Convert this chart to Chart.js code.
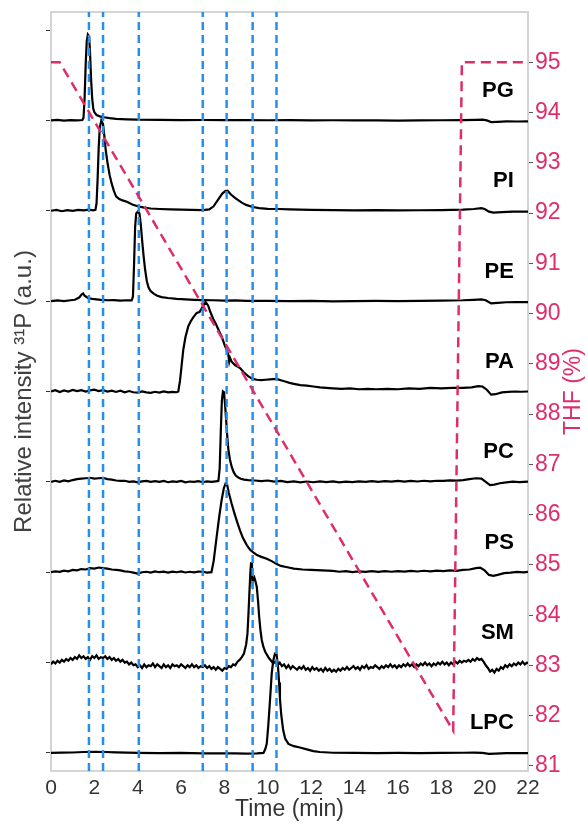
<!DOCTYPE html>
<html>
<head>
<meta charset="utf-8">
<script src="https://cdn.jsdelivr.net/npm/chart.js@4/dist/chart.umd.min.js"></script>
<style>
html,body{margin:0;padding:0;background:#fff;}
canvas{display:block;}
</style>
</head>
<body>
<canvas id="c" width="588" height="825"></canvas>
<script>
// ---------- data ----------
const timeTicks = [0,2,4,6,8,10,12,14,16,18,20,22];
const thfTicks = [81,82,83,84,85,86,87,88,89,90,91,92,93,94,95];
const offsetTicks = [0,1,2,3,4,5,6,7,8];
const traceNames = ['LPC','SM','PS','PC','PA','PE','PI','PG']; // stacked bottom -> top, offset = index
const markerTimes = [1.75,2.4,4.05,7.0,8.1,9.3,10.4];
const thfTime = [0,0.4,18.55,18.95,22];
const thfValue = [95,95,81.7,95,95];

const pgTrace = [[0,0],[0.3,0.005],[0.6,-0.003],[0.9,0.004],[1.2,0],[1.45,0.005],[1.5,0.03],[1.55,0.25],[1.6,0.62],[1.65,0.88],[1.7,0.95],[1.76,0.93],[1.8,0.75],[1.85,0.45],[1.9,0.24],[1.95,0.13],[2.0,0.09],[2.1,0.06],[2.25,0.045],[2.45,0.035],[2.7,0.025],[3.0,0.018],[3.5,0.012],[4.0,0.008],[5,0.006],[6,0.004],[7,0.005],[8,0.003],[9,0.004],[10,0.002],[11,0.003],[12,0],[13,0.002],[14,0],[15,0.001],[16,-0.002],[17,0],[18,0.002],[19,0.003],[19.6,0.006],[19.9,0.008],[20.1,0],[20.3,-0.018],[20.6,-0.015],[21,-0.01],[21.5,-0.012],[22,-0.01]];

const piTrace = [[0,0],[0.25,0.01],[0.5,-0.005],[0.75,0.008],[1.0,0],[1.25,0.01],[1.5,0.004],[1.75,0.012],[1.95,0.005],[2.05,0.01],[2.1,0.08],[2.15,0.35],[2.2,0.7],[2.25,0.92],[2.32,1.0],[2.4,0.96],[2.45,0.85],[2.52,0.68],[2.6,0.54],[2.7,0.4],[2.8,0.3],[2.9,0.22],[3.0,0.16],[3.15,0.13],[3.3,0.115],[3.5,0.1],[3.75,0.07],[4.0,0.05],[4.3,0.035],[4.6,0.025],[5.0,0.02],[5.5,0.015],[6.0,0.012],[6.5,0.01],[7.0,0.008],[7.3,0.015],[7.5,0.05],[7.7,0.12],[7.9,0.19],[8.05,0.22],[8.15,0.22],[8.3,0.18],[8.5,0.14],[8.8,0.09],[9.0,0.065],[9.3,0.042],[9.6,0.03],[10.0,0.022],[10.5,0.02],[11,0.015],[11.5,0.012],[12,0.01],[13,0.008],[14,0.005],[15,0.008],[16,0.004],[17,0.006],[18,0.008],[19,0.012],[19.5,0.02],[19.85,0.03],[20.0,0.02],[20.2,-0.01],[20.4,-0.02],[20.8,-0.015],[21.3,-0.01],[22,-0.01]];

const peTrace = [[0,0],[0.3,0.008],[0.6,0],[0.9,0.01],[1.1,0.015],[1.3,0.04],[1.42,0.075],[1.48,0.085],[1.55,0.06],[1.7,0.035],[1.9,0.025],[2.1,0.02],[2.3,0.015],[2.6,0.01],[2.9,0.012],[3.2,0.005],[3.5,0.01],[3.72,0.008],[3.78,0.05],[3.83,0.4],[3.88,0.82],[3.93,0.97],[4.0,0.99],[4.08,0.97],[4.14,0.85],[4.2,0.68],[4.27,0.5],[4.34,0.35],[4.42,0.22],[4.5,0.15],[4.6,0.11],[4.75,0.08],[4.9,0.06],[5.1,0.045],[5.4,0.035],[5.8,0.025],[6.2,0.02],[6.6,0.015],[7,0.012],[7.5,0.01],[8,0.005],[8.5,0.008],[9,0.004],[10,0.003],[11,0],[12,0.002],[13,-0.002],[14,0],[15,0.002],[16,0],[17,0.004],[18,0.006],[19,0.01],[19.5,0.015],[19.85,0.02],[20.05,0.01],[20.3,-0.025],[20.6,-0.02],[21,-0.012],[21.5,-0.01],[22,-0.01]];

const paTrace = [[0,0],[0.2,0.015],[0.4,-0.005],[0.6,0.012],[0.8,0],[1.0,0.018],[1.2,0.005],[1.4,0.015],[1.6,0],[1.8,0.012],[2.0,0.02],[2.2,0.005],[2.4,0.015],[2.6,0],[2.8,0.01],[3.0,-0.005],[3.2,0.008],[3.4,-0.01],[3.6,0.005],[3.8,-0.008],[4.0,-0.012],[4.2,0],[4.4,-0.01],[4.6,-0.015],[4.8,-0.003],[5.0,-0.012],[5.2,0],[5.4,-0.01],[5.6,-0.004],[5.8,-0.008],[5.87,0],[5.95,0.12],[6.03,0.3],[6.1,0.46],[6.2,0.6],[6.33,0.72],[6.45,0.78],[6.56,0.82],[6.72,0.87],[6.85,0.88],[7.0,0.94],[7.13,0.99],[7.25,0.95],[7.35,0.88],[7.49,0.8],[7.6,0.75],[7.75,0.67],[7.87,0.61],[8.0,0.52],[8.1,0.46],[8.18,0.4],[8.22,0.33],[8.26,0.37],[8.33,0.33],[8.5,0.29],[8.72,0.26],[8.9,0.21],[9.09,0.17],[9.3,0.14],[9.49,0.13],[9.7,0.125],[9.9,0.13],[10.1,0.135],[10.4,0.14],[10.6,0.125],[10.8,0.11],[11.0,0.095],[11.2,0.085],[11.5,0.07],[11.8,0.065],[12.1,0.055],[12.4,0.045],[12.7,0.04],[13.0,0.035],[13.4,0.03],[13.8,0.035],[14.2,0.025],[14.6,0.03],[15.0,0.025],[15.5,0.03],[16,0.025],[16.5,0.035],[17,0.03],[17.5,0.04],[18,0.035],[18.5,0.04],[19,0.04],[19.4,0.045],[19.7,0.06],[19.9,0.055],[20.1,0.02],[20.3,-0.035],[20.5,-0.03],[20.8,-0.01],[21.1,-0.005],[21.4,0],[21.7,-0.003],[22,0]];

const pcTrace = [[0,0],[0.2,0.012],[0.4,0],[0.6,0.015],[0.8,0.005],[1.0,0.02],[1.2,0.03],[1.4,0.035],[1.6,0.04],[1.8,0.045],[2.0,0.035],[2.2,0.04],[2.4,0.045],[2.6,0.03],[2.8,0.025],[3.0,0.015],[3.2,0.01],[3.4,0.012],[3.6,0],[3.8,0.005],[4.0,-0.005],[4.2,0.005],[4.4,0.01],[4.6,0],[4.8,0.008],[5.0,0],[5.2,0.01],[5.4,-0.004],[5.6,0.006],[5.8,0],[6.0,0.01],[6.2,-0.005],[6.4,0.004],[6.6,0],[6.8,0.008],[7.0,-0.004],[7.2,0.005],[7.4,0],[7.6,0.006],[7.72,0.01],[7.78,0.15],[7.83,0.55],[7.88,0.9],[7.93,1.0],[7.98,0.99],[8.03,0.85],[8.08,0.68],[8.13,0.5],[8.18,0.36],[8.25,0.25],[8.33,0.17],[8.42,0.11],[8.52,0.07],[8.62,0.05],[8.75,0.035],[8.9,0.025],[9.1,0.02],[9.4,0.015],[9.7,0.008],[10.0,0.015],[10.3,0.003],[10.6,0.01],[10.9,-0.003],[11.2,0.006],[11.5,-0.005],[11.8,0.004],[12.1,-0.004],[12.4,0.006],[12.7,-0.002],[13.0,0.005],[13.3,-0.006],[13.6,0.003],[13.9,-0.003],[14.2,0.006],[14.5,0],[14.8,0.008],[15.1,0],[15.4,0.007],[15.7,0.002],[16.0,0.01],[16.3,0.003],[16.6,0.01],[16.9,0.004],[17.2,0.012],[17.5,0.006],[17.8,0.012],[18.1,0.01],[18.4,0.016],[18.7,0.014],[19.0,0.02],[19.3,0.03],[19.6,0.04],[19.85,0.035],[20.05,0.0],[20.25,-0.035],[20.45,-0.03],[20.7,-0.015],[21.0,-0.005],[21.3,0.002],[21.6,-0.002],[22,0.002]];

const psTrace = [[0,0],[0.2,0.01],[0.4,0.005],[0.6,0.018],[0.8,0.01],[1.0,0.025],[1.2,0.02],[1.4,0.035],[1.6,0.03],[1.8,0.045],[2.0,0.04],[2.2,0.052],[2.4,0.045],[2.6,0.04],[2.8,0.03],[3.0,0.025],[3.2,0.02],[3.4,0.01],[3.6,0.005],[3.8,-0.005],[4.0,-0.015],[4.2,0],[4.4,0.005],[4.6,-0.005],[4.8,0.008],[5.0,0],[5.2,0.006],[5.4,-0.004],[5.6,0.007],[5.8,0],[6.0,0.008],[6.2,-0.003],[6.4,0.005],[6.6,-0.002],[6.8,0.006],[7.0,0.005],[7.2,-0.005],[7.4,0],[7.5,0.12],[7.64,0.39],[7.75,0.6],[7.87,0.8],[7.97,0.93],[8.05,0.98],[8.12,0.97],[8.2,0.88],[8.33,0.76],[8.45,0.66],[8.58,0.56],[8.72,0.46],[8.85,0.38],[9.03,0.3],[9.18,0.25],[9.33,0.22],[9.5,0.19],[9.7,0.17],[9.95,0.15],[10.2,0.12],[10.41,0.09],[10.6,0.07],[10.9,0.055],[11.2,0.04],[11.6,0.03],[12.0,0.025],[12.5,0.02],[13.0,0.015],[13.3,0.005],[13.6,0.012],[13.9,0.002],[14.2,0.01],[14.5,0.003],[14.8,0.011],[15.1,0.004],[15.4,0.012],[15.7,0.005],[16.0,0.013],[16.3,0.006],[16.6,0.014],[16.9,0.008],[17.2,0.016],[17.5,0.01],[17.8,0.018],[18.1,0.012],[18.4,0.02],[18.7,0.015],[19.0,0.025],[19.3,0.03],[19.6,0.045],[19.8,0.05],[20.0,0.02],[20.2,-0.03],[20.4,-0.04],[20.6,-0.03],[20.9,-0.01],[21.2,-0.005],[21.5,0.004],[21.8,-0.002],[22,0.003]];

const smTrace = [[0.0,-0.02],[0.1,0.01],[0.2,-0.01],[0.3,0.02],[0.4,0.0],[0.5,0.03],[0.6,0.01],[0.7,0.04],[0.8,0.02],[0.9,0.05],[1.0,0.03],[1.1,0.06],[1.2,0.04],[1.3,0.08],[1.4,0.05],[1.5,0.07],[1.6,0.04],[1.7,0.06],[1.8,0.03],[1.9,0.07],[2.0,0.05],[2.1,0.08],[2.2,0.04],[2.3,0.06],[2.4,0.05],[2.5,0.07],[2.6,0.04],[2.7,0.06],[2.8,0.03],[2.9,0.05],[3.0,0.02],[3.1,0.04],[3.2,0.01],[3.3,0.03],[3.4,0.0],[3.5,0.01],[3.6,-0.02],[3.7,0.0],[3.8,-0.03],[3.9,-0.02],[4.0,-0.05],[4.1,-0.03],[4.2,-0.06],[4.3,-0.02],[4.4,-0.05],[4.5,-0.03],[4.6,-0.04],[4.7,-0.01],[4.8,-0.05],[4.9,-0.02],[5.0,-0.04],[5.1,-0.06],[5.2,-0.02],[5.3,-0.05],[5.4,-0.03],[5.5,-0.06],[5.6,-0.02],[5.7,-0.04],[5.8,-0.03],[5.9,-0.05],[6.0,-0.02],[6.1,-0.04],[6.2,-0.06],[6.3,-0.03],[6.4,-0.05],[6.5,-0.02],[6.6,-0.05],[6.7,-0.03],[6.8,-0.06],[6.9,-0.04],[7.0,-0.05],[7.1,-0.03],[7.2,-0.06],[7.3,-0.04],[7.4,-0.07],[7.5,-0.05],[7.6,-0.08],[7.7,-0.05],[7.8,-0.07],[7.9,-0.09],[8.0,-0.06],[8.1,-0.07],[8.2,-0.04],[8.3,-0.05],[8.4,-0.02],[8.5,-0.03],[8.6,0.01],[8.7,0.03],[8.8,0.06],[8.9,0.1],[8.95,0.15],[9.0,0.2],[9.06,0.32],[9.1,0.5],[9.15,0.77],[9.2,1.02],[9.23,1.11],[9.27,0.98],[9.3,0.88],[9.34,0.92],[9.38,0.94],[9.43,0.9],[9.49,0.84],[9.55,0.68],[9.6,0.51],[9.66,0.36],[9.72,0.25],[9.8,0.17],[9.88,0.12],[9.95,0.09],[10.05,0.05],[10.15,0.02],[10.25,-0.01],[10.35,0.01],[10.45,-0.03],[10.55,0.0],[10.65,-0.04],[10.75,-0.02],[10.85,-0.06],[10.95,-0.03],[11.05,-0.07],[11.15,-0.04],[11.25,-0.06],[11.35,-0.08],[11.45,-0.05],[11.55,-0.07],[11.65,-0.04],[11.75,-0.08],[11.85,-0.06],[11.95,-0.09],[12.05,-0.05],[12.15,-0.08],[12.25,-0.06],[12.35,-0.09],[12.45,-0.07],[12.55,-0.1],[12.65,-0.06],[12.75,-0.09],[12.85,-0.07],[12.95,-0.1],[13.05,-0.08],[13.15,-0.1],[13.25,-0.07],[13.35,-0.09],[13.45,-0.06],[13.55,-0.08],[13.65,-0.05],[13.75,-0.08],[13.85,-0.06],[13.95,-0.04],[14.05,-0.07],[14.15,-0.05],[14.25,-0.08],[14.35,-0.04],[14.45,-0.06],[14.55,-0.03],[14.65,-0.07],[14.75,-0.05],[14.85,-0.06],[14.95,-0.03],[15.05,-0.05],[15.15,-0.07],[15.25,-0.04],[15.35,-0.06],[15.45,-0.03],[15.55,-0.05],[15.65,-0.02],[15.75,-0.05],[15.85,-0.03],[15.95,-0.06],[16.05,-0.03],[16.15,-0.05],[16.25,-0.02],[16.35,-0.04],[16.45,-0.01],[16.55,-0.04],[16.65,-0.02],[16.75,-0.05],[16.85,-0.02],[16.95,-0.04],[17.05,-0.01],[17.15,-0.03],[17.25,0.0],[17.35,-0.03],[17.45,-0.01],[17.55,-0.04],[17.65,-0.01],[17.75,-0.03],[17.85,0.0],[17.95,-0.02],[18.05,0.01],[18.15,-0.02],[18.25,0.0],[18.35,-0.03],[18.45,0.0],[18.55,-0.02],[18.65,0.01],[18.75,-0.01],[18.85,0.02],[18.95,0.0],[19.05,0.02],[19.15,0.01],[19.25,0.03],[19.35,0.01],[19.45,0.04],[19.55,0.02],[19.65,0.05],[19.75,0.03],[19.85,0.04],[19.95,0.01],[20.05,-0.03],[20.15,-0.06],[20.25,-0.1],[20.35,-0.08],[20.45,-0.11],[20.55,-0.07],[20.65,-0.09],[20.75,-0.05],[20.85,-0.07],[20.95,-0.03],[21.05,-0.05],[21.15,-0.02],[21.25,-0.04],[21.35,-0.01],[21.45,-0.03],[21.55,0.0],[21.65,-0.02],[21.75,0.01],[21.85,-0.02],[21.95,0.0],[22.0,-0.01]];

const lpcTrace = [[0,0],[0.5,0.003],[1.0,0.005],[1.5,0.01],[2.0,0.012],[2.5,0.01],[3.0,0.006],[3.5,0.004],[4.0,0],[5,-0.003],[6,0],[7,-0.004],[8,-0.006],[8.5,-0.005],[9,-0.008],[9.5,-0.004],[9.8,0],[9.88,0.04],[9.95,0.1],[10.02,0.3],[10.1,0.58],[10.18,0.88],[10.25,1.02],[10.33,1.1],[10.4,1.1],[10.47,0.95],[10.52,0.78],[10.56,0.6],[10.62,0.42],[10.71,0.25],[10.8,0.16],[10.95,0.1],[11.2,0.075],[11.48,0.06],[11.8,0.04],[12.1,0.02],[12.4,0.01],[13,0.002],[14,0],[15,-0.002],[16,0],[17,-0.003],[18,0],[19,0.002],[19.5,0.004],[19.9,0],[20.2,-0.01],[20.5,-0.008],[21,-0.003],[22,-0.003]];

const traces = [lpcTrace, smTrace, psTrace, pcTrace, paTrace, peTrace, piTrace, pgTrace];

// ---------- style ----------
const PINK = '#DE2D6B';
const BLUE = '#2490EC';
const FONT = "'Liberation Sans', Arial, sans-serif";
const Y_MIN = -0.2, Y_MAX = 8.2;
const LABEL_TIME = 21.35, LABEL_LIFT = 0.26;

Chart.defaults.font.family = FONT;

const datasets = [];
datasets.push({
  label: 'THF',
  data: thfTime.map((t, i) => ({x: t, y: thfValue[i]})),
  yAxisID: 'y2', borderColor: PINK, borderWidth: 2.5, borderDash: [10, 6],
  pointRadius: 0, tension: 0, fill: false, order: 0
});
markerTimes.forEach(t => {
  datasets.push({
    label: 'marker ' + t,
    data: [{x: t, y: Y_MIN}, {x: t, y: Y_MAX}],
    yAxisID: 'y', borderColor: BLUE, borderWidth: 2.5, borderDash: [8, 5],
    pointRadius: 0, tension: 0, fill: false, order: 1
  });
});
traces.forEach((tr, k) => {
  datasets.push({
    label: traceNames[k],
    data: tr.map(([t, v]) => ({x: t, y: v + k})),
    yAxisID: 'y', borderColor: '#000', borderWidth: 2.2,
    pointRadius: 0, tension: 0, fill: false, order: 2
  });
});

const framePlugin = {
  id: 'frame',
  beforeDatasetsDraw(chart) {
    const {ctx, chartArea: a} = chart;
    ctx.save();
    ctx.strokeStyle = '#d4d4d4';
    ctx.lineWidth = 2;
    ctx.strokeRect(a.left, a.top, a.right - a.left, a.bottom - a.top);
    ctx.restore();
  },
  afterDraw(chart) {
    const {ctx, chartArea: a, scales} = chart;
    ctx.save();
    ctx.fillStyle = '#000';
    ctx.font = "bold 22px " + FONT;
    ctx.textAlign = 'right';
    ctx.textBaseline = 'alphabetic';
    traceNames.forEach((n, k) => {
      ctx.fillText(n, scales.x.getPixelForValue(LABEL_TIME), scales.y.getPixelForValue(k + LABEL_LIFT));
    });
    ctx.translate(574, (a.top + a.bottom) / 2);
    ctx.rotate(-Math.PI / 2);
    ctx.textAlign = 'center';
    ctx.textBaseline = 'middle';
    ctx.fillStyle = PINK;
    ctx.font = "23px " + FONT;
    ctx.fillText('THF (%)', 0, 0);
    ctx.restore();
  }
};

const noPad = s => { s.paddingTop = 0; s.paddingBottom = 0; };

new Chart(document.getElementById('c'), {
  type: 'line',
  data: {datasets},
  options: {
    responsive: false,
    animation: false,
    devicePixelRatio: 1,
    layout: {padding: {top: 12, left: 0, right: 0, bottom: 0}},
    plugins: {legend: {display: false}, tooltip: {enabled: false}},
    scales: {
      x: {
        type: 'linear', min: 0, max: 22,
        afterBuildTicks: s => { s.ticks = timeTicks.map(v => ({value: v})); },
        afterFit: s => { s.height = 54; s.paddingLeft = 0; s.paddingRight = 0; },
        grid: {display: false, drawTicks: false, tickLength: 0},
        border: {display: false},
        ticks: {color: '#333', font: {size: 21}, padding: 5, maxRotation: 0},
        title: {display: true, text: 'Time (min)', color: '#333', font: {size: 23}, padding: {top: 0, bottom: 2}}
      },
      y: {
        type: 'linear', position: 'left', min: Y_MIN, max: Y_MAX,
        afterBuildTicks: s => { s.ticks = offsetTicks.map(v => ({value: v})); },
        afterFit: s => { s.width = 51; noPad(s); },
        grid: {display: true, drawOnChartArea: false, drawTicks: true, tickLength: 5, color: '#333'},
        border: {display: false},
        ticks: {display: false},
        title: {display: true, text: 'Relative intensity \u00B3\u00B9P (a.u.)', color: '#404040', font: {size: 24}, padding: {top: 10, bottom: 0}}
      },
      y2: {
        type: 'linear', position: 'right', min: 80.9, max: 96,
        afterBuildTicks: s => { s.ticks = thfTicks.map(v => ({value: v})); },
        afterFit: s => { s.width = 60; noPad(s); },
        grid: {display: true, drawOnChartArea: false, drawTicks: true, tickLength: 5, color: '#555'},
        border: {display: false},
        ticks: {color: PINK, font: {size: 23}, padding: 2}
      }
    }
  },
  plugins: [framePlugin]
});
</script>
</body>
</html>
